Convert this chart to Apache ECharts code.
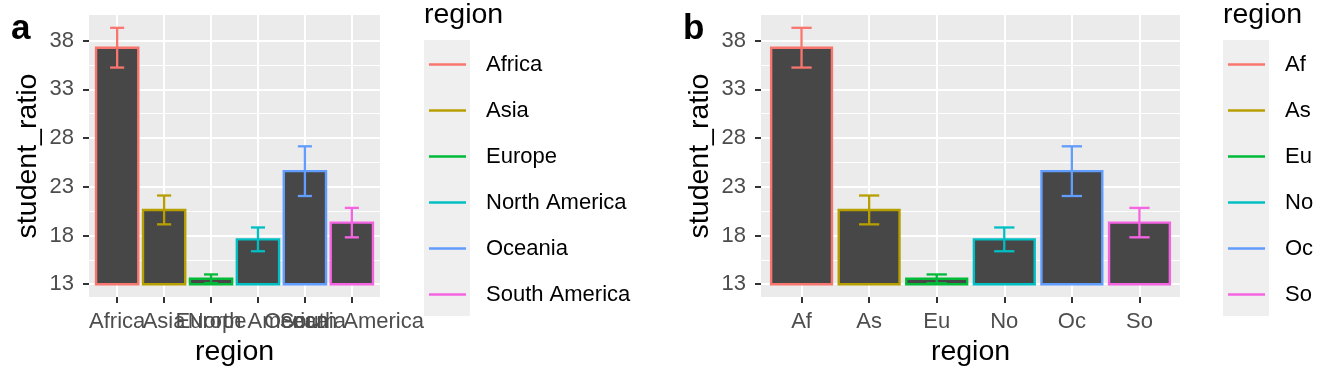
<!DOCTYPE html>
<html><head><meta charset="utf-8">
<script src="https://cdn.jsdelivr.net/npm/echarts@6/dist/echarts.min.js"></script>
<style>html,body{margin:0;padding:0;background:#fff}#chart{width:1344px;height:384px}</style>
</head><body><div id="chart"></div>
<script>
// ---- data ----
const regions = ['Africa', 'Asia', 'Europe', 'North America', 'Oceania', 'South America'];
const regionAbbr = ['Af', 'As', 'Eu', 'No', 'Oc', 'So'];
const studentRatioMean = [37.27, 20.62, 13.55, 17.60, 24.60, 19.32];
const studentRatioSe = [2.04, 1.48, 0.45, 1.22, 2.55, 1.51];
const yTicks = [13, 18, 23, 28, 33, 38];
const yMinorTicks = [15.5, 20.5, 25.5, 30.5, 35.5];
const xTicks = [1, 2, 3, 4, 5, 6];
const regionColors = ['#F8766D', '#B79F00', '#00BA38', '#00BFC4', '#619CFF', '#F564E3'];
const BAR_BASE = 13;

// ---- styling / layout ----
const FONT = '"Liberation Sans", Arial, Helvetica, sans-serif';
const BAR_W = 0.9, CAP_W = 0.3, BAR_FILL = '#474747';
const hi = Math.max(...studentRatioMean.map((m, i) => m + studentRatioSe[i]));
const pad = 0.05 * (hi - BAR_BASE);
const yMin = BAR_BASE - pad, yMax = hi + pad;
const X_MIN = 0.4, X_MAX = 6.6;

function renderItem(params, api) {
  const x = api.value(0), m = api.value(1), s = api.value(2);
  const color = api.visual('color');
  const p0 = api.coord([x - BAR_W / 2, BAR_BASE]);
  const p1 = api.coord([x + BAR_W / 2, m]);
  const top = api.coord([x, m + s]);
  const bot = api.coord([x, m - s]);
  const cl = api.coord([x - CAP_W / 2, m])[0];
  const cr = api.coord([x + CAP_W / 2, m])[0];
  const ls = { stroke: color, lineWidth: 2.3 };
  return {
    type: 'group',
    children: [
      { type: 'rect', shape: { x: p0[0], y: p1[1], width: p1[0] - p0[0], height: p0[1] - p1[1] },
        style: { fill: BAR_FILL, stroke: color, lineWidth: 2.4 } },
      { type: 'line', shape: { x1: top[0], y1: top[1], x2: bot[0], y2: bot[1] }, style: ls },
      { type: 'line', shape: { x1: cl, y1: top[1], x2: cr, y2: top[1] }, style: ls },
      { type: 'line', shape: { x1: cl, y1: bot[1], x2: cr, y2: bot[1] }, style: ls }
    ]
  };
}

// main x axis: ticks, grid lines, title (labels drawn by one label-only axis per category,
// so that ggplot-style overlapping labels are all kept)
function xAxesFor(gi, labels) {
  const axes = [{
    gridIndex: gi, type: 'value', min: X_MIN, max: X_MAX, position: 'bottom',
    axisLine: { show: false },
    axisTick: { show: true, customValues: xTicks, length: 6, lineStyle: { color: '#333333', width: 2 } },
    axisLabel: { show: false, customValues: xTicks },
    splitLine: { show: true, lineStyle: { color: '#FFFFFF', width: 2 } },
    name: 'region', nameLocation: 'middle', nameGap: 41,
    nameTextStyle: { fontSize: 28.5, color: '#000000', fontFamily: FONT }
  }];
  xTicks.forEach((t, i) => {
    axes.push({
      gridIndex: gi, type: 'value', min: X_MIN, max: X_MAX, position: 'bottom',
      axisLine: { show: false }, axisTick: { show: false, customValues: [t] },
      splitLine: { show: false },
      axisLabel: { customValues: [t], formatter: () => labels[i], color: '#4D4D4D',
        fontSize: 22, margin: 14, fontFamily: FONT, hideOverlap: false, showMinLabel: true, showMaxLabel: true }
    });
  });
  return axes;
}
function yAxesFor(gi) {
  return [{
    gridIndex: gi, type: 'value', min: yMin, max: yMax,
    axisLine: { show: false },
    axisTick: { show: true, customValues: yTicks, length: 6, lineStyle: { color: '#333333', width: 2 } },
    axisLabel: { customValues: yTicks, color: '#4D4D4D', fontSize: 22, margin: 15, fontFamily: FONT,
      showMinLabel: true, showMaxLabel: true },
    splitLine: { show: true, lineStyle: { color: '#FFFFFF', width: 2 } },
    name: 'student_ratio', nameLocation: 'middle', nameRotate: 90, nameGap: 46,
    nameTextStyle: { fontSize: 28.5, color: '#000000', fontFamily: FONT }
  }, {
    gridIndex: gi, type: 'value', min: yMin, max: yMax,
    axisLine: { show: false },
    axisTick: { show: false, customValues: yMinorTicks },
    axisLabel: { show: false, customValues: yMinorTicks },
    splitLine: { show: true, lineStyle: { color: '#FFFFFF', width: 1 } }
  }];
}

const xAxes = [...xAxesFor(0, regions), ...xAxesFor(1, regionAbbr)];
const X_PER_PANEL = xTicks.length + 1;

const series = [];
[regions, regionAbbr].forEach((names, gi) => {
  names.forEach((nm, i) => {
    series.push({
      type: 'custom', name: nm, xAxisIndex: gi * X_PER_PANEL, yAxisIndex: gi * 2,
      renderItem, encode: { x: 0, y: 1 }, z: 3,
      itemStyle: { color: regionColors[i] },
      data: [[xTicks[i], studentRatioMean[i], studentRatioSe[i]]]
    });
  });
});

function legendFor(names, left) {
  return {
    data: names, left: left, top: 41.5, orient: 'vertical', padding: 0, itemGap: 0,
    itemWidth: 37, itemHeight: 2.5, icon: 'rect', selectedMode: false,
    textStyle: { fontSize: 22, color: '#000000', lineHeight: 46, padding: [0, 0, 0, 15], fontFamily: FONT }
  };
}

const option = {
  animation: false,
  textStyle: { fontFamily: FONT },
  title: [
    { text: 'a', left: 11, top: 12, padding: 0, textStyle: { fontSize: 35, fontWeight: 'bold', color: '#000', fontFamily: FONT } },
    { text: 'b', left: 683, top: 12, padding: 0, textStyle: { fontSize: 35, fontWeight: 'bold', color: '#000', fontFamily: FONT } },
    { text: 'region', left: 424, top: 1, padding: 0, textStyle: { fontSize: 28.5, fontWeight: 'normal', color: '#000', fontFamily: FONT } },
    { text: 'region', left: 1223, top: 1, padding: 0, textStyle: { fontSize: 28.5, fontWeight: 'normal', color: '#000', fontFamily: FONT } }
  ],
  grid: [
    { left: 89, top: 15, width: 291, height: 282, show: true, backgroundColor: '#EBEBEB', borderWidth: 0 },
    { left: 761, top: 15, width: 419, height: 282, show: true, backgroundColor: '#EBEBEB', borderWidth: 0 }
  ],
  graphic: [
    { type: 'rect', left: 424, top: 40, shape: { width: 46, height: 276 }, style: { fill: '#EFEFEF' }, z: 0 },
    { type: 'rect', left: 1223, top: 40, shape: { width: 46, height: 276 }, style: { fill: '#EFEFEF' }, z: 0 }
  ],
  legend: [legendFor(regions, 429), legendFor(regionAbbr, 1228)],
  xAxis: xAxes,
  yAxis: [...yAxesFor(0), ...yAxesFor(1)],
  series
};
const chart = echarts.init(document.getElementById('chart'), null, { renderer: 'canvas' });
chart.setOption(option);
</script></body></html>
